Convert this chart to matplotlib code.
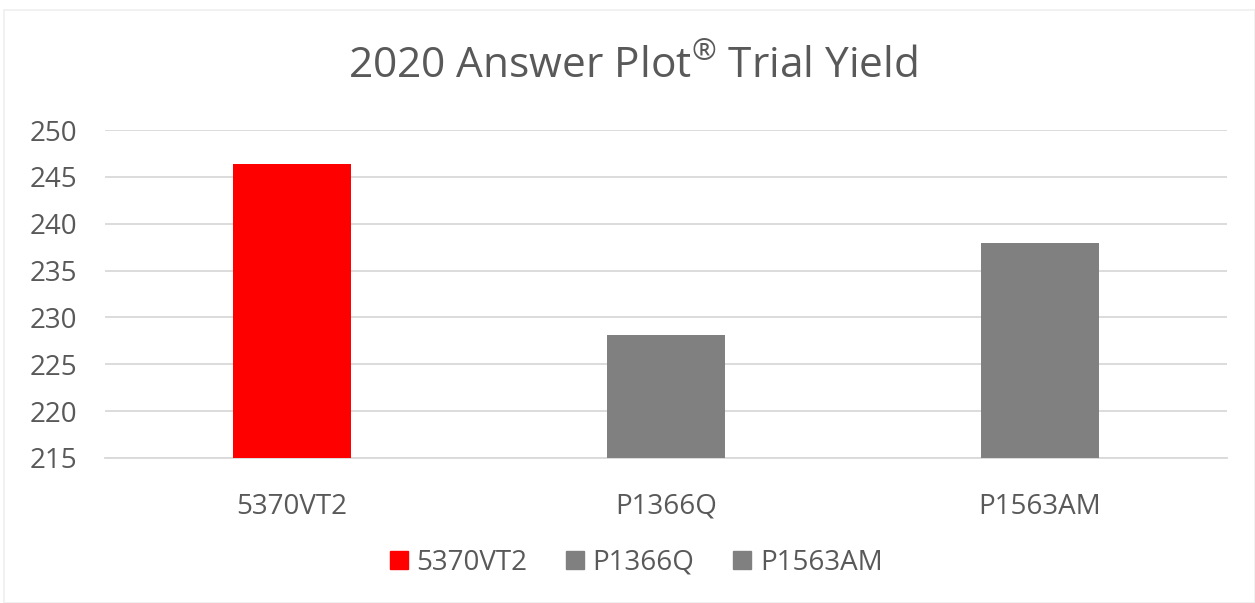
import matplotlib.pyplot as plt
from matplotlib.patches import Rectangle

plt.rcParams['font.family'] = ['Open Sans', 'DejaVu Sans']
plt.rcParams['mathtext.fontset'] = 'custom'
plt.rcParams['mathtext.rm'] = 'Open Sans'

hybrids = ['5370VT2', 'P1366Q', 'P1563AM']
yields = [246.4, 228.1, 237.9]
colors = ['#FF0000', '#808080', '#808080']
y_ticks = [215, 220, 225, 230, 235, 240, 245, 250]

text_color = '#595959'
grid_color = '#D9D9D9'

fig = plt.figure(figsize=(12.55, 6.03), dpi=100)
fig.patches.append(Rectangle((0.003, 0.0), 0.997, 0.983, transform=fig.transFigure,
                             fill=False, edgecolor='#EFEFEF', linewidth=1.2))

ax = fig.add_axes([0.0837, 0.2405, 0.894, 0.5439])
ax.bar(range(len(hybrids)), [v - 215 for v in yields], bottom=215,
       width=0.316, color=colors, zorder=3)

ax.set_xlim(-0.5, 2.5)
ax.set_ylim(215, 250)
ax.set_yticks(y_ticks)
ax.set_xticks(range(len(hybrids)))
ax.set_xticklabels(hybrids)
ax.yaxis.grid(True, color=grid_color, linewidth=1.3)
ax.set_axisbelow(True)
for s in ['top', 'right', 'left']:
    ax.spines[s].set_visible(False)
ax.spines['bottom'].set_color(grid_color)
ax.spines['bottom'].set_linewidth(1.3)
ax.tick_params(axis='both', length=0, labelsize=20, colors=text_color)
ax.tick_params(axis='y', pad=20)
ax.tick_params(axis='x', pad=25)

fig.text(0.504, 0.89, r'2020 Answer Plot$^{\mathrm{®}}$ Trial Yield', ha='center',
         va='center', fontsize=30.5, color=text_color)

handles = [Rectangle((0, 0), 1, 1, color=c) for c in colors]
fig.legend(handles, hybrids, loc='center', bbox_to_anchor=(0.507, 0.067), ncol=3,
           frameon=False, fontsize=20, labelcolor=text_color, handlelength=0.65,
           handleheight=0.65, handletextpad=0.3, columnspacing=1.4)

fig.savefig('out.png', dpi=100)
